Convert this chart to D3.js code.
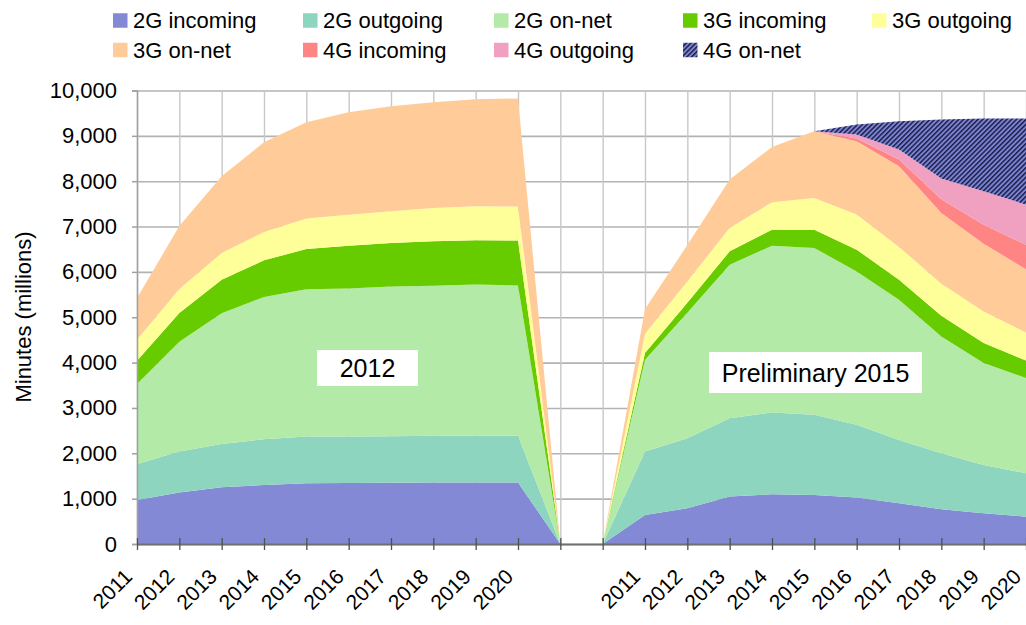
<!DOCTYPE html>
<html>
<head>
<meta charset="utf-8">
<script src="https://cdn.jsdelivr.net/npm/d3@7"></script>
<style>
  html, body { margin: 0; padding: 0; background: #fff; }
  svg { display: block; font-family: "Liberation Sans", Arial, sans-serif; }
</style>
</head>
<body>
<svg id="chart" width="1026" height="625"></svg>
<script>
// ---- Data (22 category slots: 2011-2020 | 2 blank gaps | 2011-2020) ----
const categoryLabels = ["2011","2012","2013","2014","2015","2016","2017","2018","2019","2020","","",
                        "2011","2012","2013","2014","2015","2016","2017","2018","2019","2020"];
const seriesNames = ["2G incoming","2G outgoing","2G on-net","3G incoming","3G outgoing",
                     "3G on-net","4G incoming","4G outgoing","4G on-net"];
const incoming2G = [970,1135,1250,1300,1340,1345,1350,1355,1355,1355, 0,0, 640,788,1045,1097,1082,1023,898,766,678,603];
const outgoing2G = [795,905,955,1010,1030,1025,1025,1030,1030,1030, 0,0, 1398,1545,1729,1802,1766,1604,1398,1236,1066,958];
const onnet2G    = [1765,2420,2885,3135,3250,3265,3305,3310,3335,3315, 0,0, 2024,2766,3385,3679,3679,3384,3090,2574,2245,2097];
const incoming3G = [510,635,735,810,885,940,955,980,980,990, 0,0, 147,221,294,354,405,479,442,457,441,388];
const outgoing3G = [465,530,590,625,675,685,700,735,750,750, 0,0, 427,471,516,603,698,773,722,707,698,618];
const onnet3G    = [920,1385,1695,1980,2120,2260,2320,2330,2355,2385, 0,0, 545,802,1066,1221,1472,1617,1779,1560,1492,1396];
const incoming4G = [0,0,0,0,0,0,0,0,0,0, 0,0, 0,0,0,0,0,60,148,300,420,540];
const outgoing4G = [0,0,0,0,0,0,0,0,0,0, 0,0, 0,0,0,0,0,90,220,462,738,883];
const onnet4G    = [0,0,0,0,0,0,0,0,0,0, 0,0, 0,0,0,0,0,220,623,1298,1602,1897];
const yTicks = [0,1000,2000,3000,4000,5000,6000,7000,8000,9000,10000];
const annotations = ["2012", "Preliminary 2015"];

const seriesValues = [incoming2G, outgoing2G, onnet2G, incoming3G, outgoing3G, onnet3G, incoming4G, outgoing4G, onnet4G];
const colors = ["#8489D6","#8DD5BF","#B3EAA8","#66CC00","#FFFF99","#FFCC99","#FF8484","#F0A0C0","url(#hatch)"];

// ---- Build table ----
const table = categoryLabels.map((c, i) => {
  const row = { idx: i };
  seriesNames.forEach((s, k) => row[s] = seriesValues[k][i]);
  return row;
});

const svg = d3.select("#chart");
const pLeft = 137, pRight = 1026, pTop = 90.5, pBottom = 544;

const defs = svg.append("defs");
const pat = defs.append("pattern")
  .attr("id", "hatch").attr("patternUnits", "userSpaceOnUse")
  .attr("width", 3.4).attr("height", 3.4)
  .attr("patternTransform", "rotate(45)");
pat.append("rect").attr("width", 3.4).attr("height", 3.4).attr("fill", "#7C84D4");
pat.append("rect").attr("x", 0).attr("width", 1.5).attr("height", 3.4).attr("fill", "#1E1E48");

const x = d3.scalePoint().domain(d3.range(categoryLabels.length)).range([pLeft, pRight]);
const y = d3.scaleLinear().domain([0, 10000]).range([pBottom, pTop]);

// Gridlines
svg.append("g").attr("transform", `translate(${pLeft},0)`)
  .call(d3.axisLeft(y).tickValues(yTicks).tickSize(-(pRight - pLeft)).tickFormat(""))
  .call(g => g.select(".domain").remove())
  .call(g => g.selectAll("line").attr("stroke", "#B3B3B3").attr("stroke-width", 1.6));
svg.append("g").attr("transform", `translate(0,${pBottom})`)
  .call(d3.axisBottom(x).tickSize(-(pBottom - pTop)).tickFormat(""))
  .call(g => g.select(".domain").remove())
  .call(g => g.selectAll("line").attr("stroke", "#C8C8C8").attr("stroke-width", 1.4));

// Areas
const stack = d3.stack().keys(seriesNames);
const layers = stack(table);
const area = d3.area()
  .x(d => x(d.data.idx))
  .y0(d => y(d[0]))
  .y1(d => y(d[1]));
svg.append("g").selectAll("path").data(layers).join("path")
  .attr("d", area)
  .attr("fill", (d, i) => colors[i]);

// Y axis
svg.append("g").attr("transform", `translate(${pLeft},0)`)
  .call(d3.axisLeft(y).tickValues(yTicks).tickSize(5).tickPadding(15).tickFormat(d3.format(",")))
  .call(g => g.select(".domain").attr("stroke", "#A0A0A0").attr("stroke-width", 1.5))
  .call(g => g.selectAll("line").attr("stroke", "#A0A0A0").attr("stroke-width", 1.5))
  .call(g => g.selectAll("text").attr("font-size", 22).attr("fill", "#000")
        .attr("font-family", "Liberation Sans, Arial, sans-serif"));

// X axis
svg.append("g").attr("transform", `translate(0,${pBottom})`)
  .call(d3.axisBottom(x).tickSize(6).tickSizeOuter(0).tickFormat(i => categoryLabels[i]))
  .call(g => g.select(".domain").attr("stroke", "#707070").attr("stroke-width", 2))
  .call(g => g.selectAll("line").attr("stroke", "#505050").attr("stroke-width", 1.3).attr("y1", -6).attr("y2", 6))
  .call(g => g.selectAll("text")
        .attr("font-size", 21).attr("fill", "#000")
        .attr("font-family", "Liberation Sans, Arial, sans-serif")
        .attr("x", 0).attr("y", 0).attr("dy", 0)
        .attr("text-anchor", "end")
        .attr("transform", "translate(-4,34) rotate(-45)"));

// Y axis title
svg.append("text")
  .attr("transform", "translate(23,317) rotate(-90)")
  .attr("text-anchor", "middle").attr("dy", "0.35em")
  .attr("font-size", 22).attr("fill", "#000")
  .text("Minutes (millions)");

// Annotation boxes
const boxes = [
  { text: annotations[0], x0: 317, x1: 418, y0: 350, y1: 386 },
  { text: annotations[1], x0: 709, x1: 922, y0: 352, y1: 393 }
];
const bg = svg.append("g").selectAll("g").data(boxes).join("g");
bg.append("rect")
  .attr("x", d => d.x0).attr("y", d => d.y0)
  .attr("width", d => d.x1 - d.x0).attr("height", d => d.y1 - d.y0)
  .attr("fill", "#fff");
bg.append("text")
  .attr("x", d => (d.x0 + d.x1) / 2).attr("y", d => (d.y0 + d.y1) / 2)
  .attr("dy", "0.36em").attr("text-anchor", "middle")
  .attr("font-size", 25).attr("fill", "#000")
  .text(d => d.text);

// Legend
const colX = [113, 303, 494, 683, 872];
const rowY = [20.5, 50];
const leg = svg.append("g").selectAll("g").data(seriesNames).join("g")
  .attr("transform", (d, i) => `translate(${colX[i % 5]},${rowY[Math.floor(i / 5)]})`);
leg.append("rect").attr("x", 0).attr("y", -7.25).attr("width", 14.5).attr("height", 14.5)
  .attr("fill", (d, i) => colors[i]);
leg.append("text").attr("x", 20).attr("y", 0).attr("dy", "0.36em")
  .attr("font-size", 22).attr("fill", "#000").text(d => d);
</script>
</body>
</html>
